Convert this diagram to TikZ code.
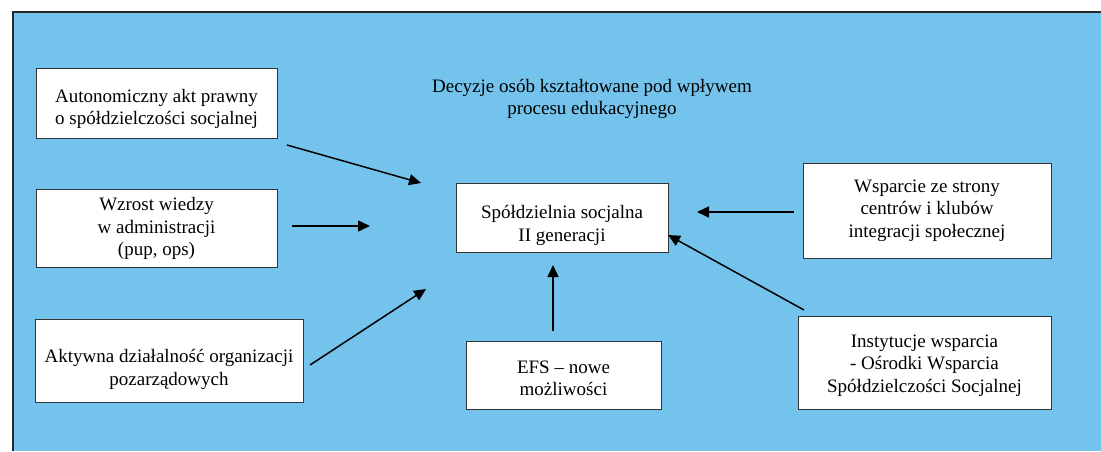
\documentclass[tikz,border=0pt]{standalone}
\usepackage{fontspec}
\setmainfont{Liberation Serif}
\newfontfamily\diagfont{Liberation Serif}
\usetikzlibrary{arrows.meta}
\definecolor{bgblue}{RGB}{116,195,237}
\definecolor{frame}{RGB}{40,40,40}
\newcommand\txtdown[1]{\rule{0pt}{\dimexpr 13pt+2\dimexpr #1\relax\relax}}
\begin{document}
\begin{tikzpicture}[x=1pt,y=-1pt,
  box/.style={draw=black!80,line width=0.9pt,fill=white,align=center,font=\diagfont\fontsize{19}{22.5}\selectfont},
  lab/.style={align=center,font=\diagfont\fontsize{19}{22.5}\selectfont},
  arr/.style={-{Triangle[length=12pt,width=11pt]},line width=1.5pt,black}]
\useasboundingbox (0,0) rectangle (1101,451);
\fill[bgblue] (13,12) rectangle (1101,451);
\draw[frame,line width=1.5pt] (13,451) -- (13,12) -- (1101,12);
% boxes
\node[box,minimum width=241pt,minimum height=70pt] (auto) at (156.5,103) {\txtdown{6pt}Autonomiczny akt prawny\\o spółdzielczości socjalnej};
\node[box,minimum width=241pt,minimum height=78pt] (wzrost) at (156.5,228) {\txtdown{1pt}Wzrost wiedzy\\w administracji\\(pup, ops)};
\node[box,minimum width=268pt,minimum height=83pt] (aktyw) at (169,360.5) {\txtdown{9pt}Aktywna działalność organizacji\\pozarządowych};
\node[box,minimum width=212pt,minimum height=69pt] (spol) at (562,217.5) {\txtdown{8pt}Spółdzielnia socjalna\\II generacji};
\node[box,minimum width=195pt,minimum height=68pt] (efs) at (563.5,375) {\txtdown{3pt}EFS – nowe\\możliwości};
\node[box,minimum width=248pt,minimum height=95pt] (wsp) at (927,210.5) {Wsparcie ze strony\\centrów i klubów\\integracji społecznej};
\node[box,minimum width=253pt,minimum height=93pt] (inst) at (924.5,362.5) {\txtdown{3pt}Instytucje wsparcia\\- Ośrodki Wsparcia\\Spółdzielczości Socjalnej};
\node[lab] (title) at (592,99) {Decyzje osób kształtowane pod wpływem\\procesu edukacyjnego};
% arrow endpoints
\coordinate (a1s) at (287,145); \coordinate (a1e) at (421,183);
\coordinate (a2s) at (292,226); \coordinate (a2e) at (370,226);
\coordinate (a3s) at (310,365); \coordinate (a3e) at (426,289);
\coordinate (a4s) at (553,331); \coordinate (a4e) at (553,265);
\coordinate (a5s) at (794,212); \coordinate (a5e) at (697,212);
\coordinate (a6s) at (804,310); \coordinate (a6e) at (668,235);
\draw[arr] (a1s) -- (a1e);
\draw[arr] (a2s) -- (a2e);
\draw[arr] (a3s) -- (a3e);
\draw[arr] (a4s) -- (a4e);
\draw[arr] (a5s) -- (a5e);
\draw[arr] (a6s) -- (a6e);
\end{tikzpicture}
\end{document}
